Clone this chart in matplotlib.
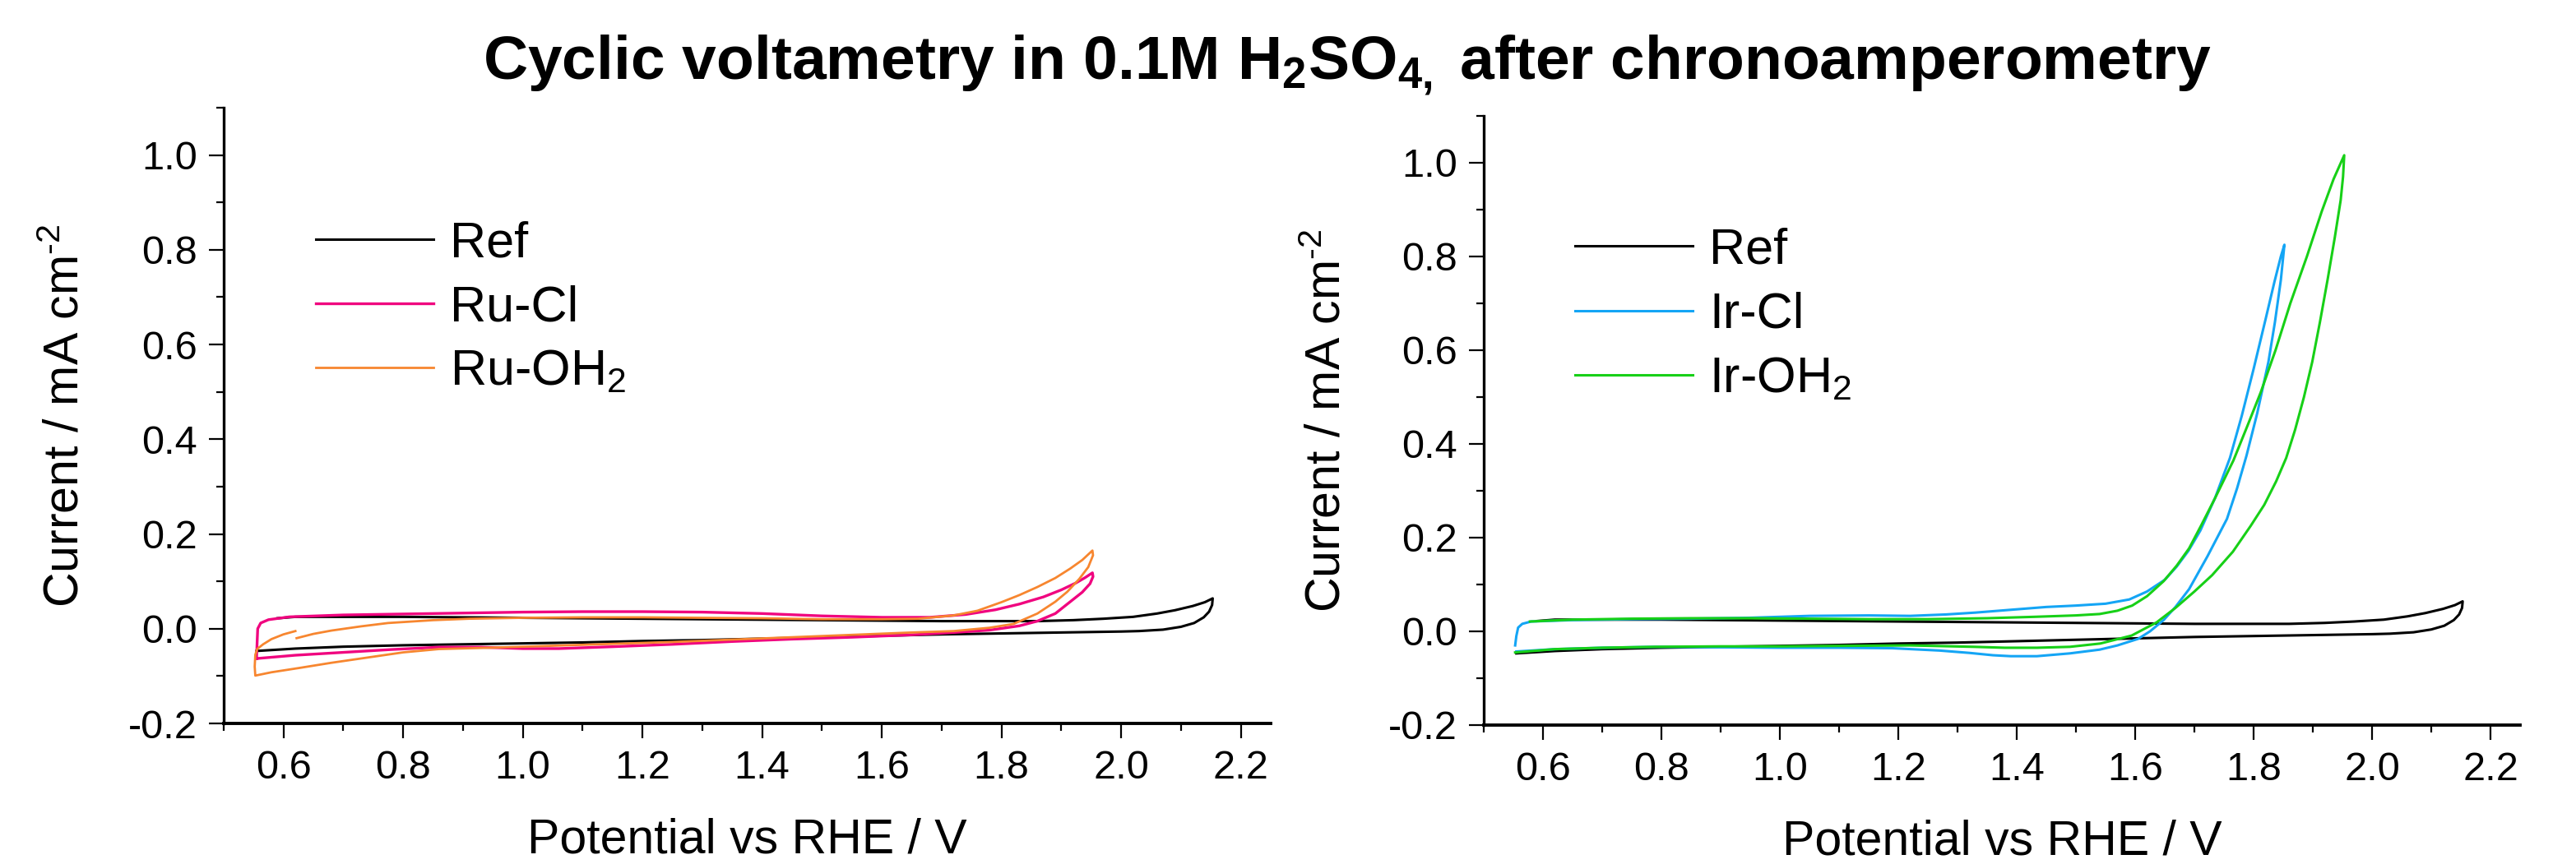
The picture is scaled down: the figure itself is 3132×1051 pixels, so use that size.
import numpy as np
import matplotlib
matplotlib.use('Agg')
import matplotlib.pyplot as plt
from matplotlib.ticker import MultipleLocator, FormatStrFormatter

# Fonts: Arial look-alike, math text in the same family
plt.rcParams['font.family'] = ['Liberation Sans', 'DejaVu Sans']
plt.rcParams['mathtext.fontset'] = 'custom'
plt.rcParams['mathtext.rm'] = 'Liberation Sans'
plt.rcParams['mathtext.it'] = 'Liberation Sans:italic'
plt.rcParams['mathtext.bf'] = 'Liberation Sans:bold'
plt.rcParams['axes.unicode_minus'] = False

# ---- data (potential V vs RHE, current mA cm-2) ----
ref_v = [0.59, 0.62, 0.70, 0.80, 0.90, 1.00, 1.10, 1.20, 1.30, 1.40, 1.50, 1.60,
         1.70, 1.80, 1.86, 1.92, 1.97, 2.02, 2.06, 2.09, 2.12, 2.14, 2.153,
         2.152, 2.147, 2.138, 2.122, 2.10, 2.07, 2.03, 2.00, 1.90, 1.80, 1.70,
         1.60, 1.50, 1.40, 1.30, 1.20, 1.10, 1.00, 0.90, 0.80, 0.70, 0.62, 0.555]
ref_i = [0.022, 0.025, 0.025, 0.025, 0.024, 0.023, 0.022, 0.021, 0.020, 0.019,
         0.018, 0.017, 0.016, 0.016, 0.016, 0.018, 0.021, 0.025, 0.032, 0.039,
         0.048, 0.056, 0.064,
         0.050, 0.036, 0.024, 0.012, 0.004, -0.002, -0.005, -0.006, -0.008,
         -0.010, -0.012, -0.015, -0.018, -0.021, -0.024, -0.026, -0.029, -0.031,
         -0.033, -0.035, -0.038, -0.042, -0.047]

rucl_v = [0.555, 0.556, 0.557, 0.562, 0.575, 0.61, 0.70, 0.80, 0.90, 1.00, 1.10,
          1.20, 1.30, 1.40, 1.50, 1.60, 1.68, 1.74, 1.79, 1.83, 1.87, 1.90, 1.925,
          1.94, 1.952,
          1.953, 1.948, 1.935, 1.91, 1.89, 1.86, 1.83, 1.78, 1.72, 1.65, 1.55, 1.45,
          1.35, 1.25, 1.15, 1.06, 1.00, 0.93, 0.86, 0.78, 0.70, 0.62, 0.555]
rucl_i = [-0.063, -0.030, 0.000, 0.012, 0.019, 0.025, 0.029, 0.031, 0.033, 0.035,
          0.036, 0.036, 0.035, 0.032, 0.027, 0.024, 0.024, 0.030, 0.040, 0.052,
          0.067, 0.082, 0.097, 0.108, 0.118,
          0.110, 0.095, 0.077, 0.052, 0.032, 0.016, 0.006, -0.003, -0.008, -0.013,
          -0.018, -0.022, -0.027, -0.033, -0.038, -0.042, -0.042, -0.039, -0.039,
          -0.044, -0.050, -0.056, -0.063]

ruoh_v = [0.622, 0.65, 0.68, 0.73, 0.775, 0.85, 0.91, 1.00, 1.10, 1.20, 1.30, 1.40,
          1.50, 1.60, 1.66, 1.72, 1.76, 1.80, 1.83, 1.86, 1.89, 1.915, 1.935, 1.952,
          1.953, 1.945, 1.93, 1.91, 1.89, 1.86, 1.82, 1.78, 1.72, 1.65, 1.55, 1.45,
          1.35, 1.25, 1.15, 1.05, 0.95, 0.86, 0.80, 0.74, 0.68, 0.626, 0.58, 0.553,
          0.552, 0.553, 0.556, 0.566, 0.58, 0.60, 0.62]
ruoh_i = [-0.020, -0.011, -0.004, 0.005, 0.012, 0.018, 0.021, 0.023, 0.024, 0.024,
          0.023, 0.022, 0.020, 0.020, 0.021, 0.028, 0.038, 0.056, 0.071, 0.088,
          0.107, 0.127, 0.145, 0.165,
          0.155, 0.130, 0.105, 0.078, 0.057, 0.032, 0.010, 0.002, -0.005, -0.008,
          -0.013, -0.018, -0.023, -0.028, -0.032, -0.036, -0.040, -0.043, -0.050,
          -0.061, -0.072, -0.083, -0.092, -0.099,
          -0.080, -0.055, -0.043, -0.033, -0.022, -0.012, -0.005]

ircl_v = [0.553, 0.555, 0.558, 0.565, 0.58, 0.65, 0.75, 0.85, 0.95, 1.05, 1.15,
          1.22, 1.28, 1.33, 1.39, 1.45, 1.50, 1.55, 1.59, 1.62, 1.65, 1.67, 1.69,
          1.71, 1.735, 1.76, 1.78, 1.80, 1.82, 1.835, 1.846, 1.852,
          1.850, 1.846, 1.836, 1.825, 1.806, 1.788, 1.772, 1.755, 1.722, 1.691,
          1.668, 1.648, 1.625, 1.605, 1.57, 1.54, 1.49, 1.434, 1.39, 1.36, 1.32,
          1.27, 1.19, 1.10, 1.00, 0.90, 0.79, 0.70, 0.62, 0.555]
ircl_i = [-0.030, -0.010, 0.008, 0.016, 0.021, 0.024, 0.026, 0.027, 0.029, 0.033,
          0.034, 0.033, 0.036, 0.040, 0.046, 0.052, 0.055, 0.059, 0.068, 0.085,
          0.110, 0.138, 0.172, 0.215, 0.285, 0.370, 0.460, 0.560, 0.665, 0.745,
          0.800, 0.825,
          0.800, 0.750, 0.660, 0.575, 0.465, 0.375, 0.305, 0.240, 0.160, 0.090,
          0.052, 0.024, 0.000, -0.016, -0.030, -0.039, -0.047, -0.053, -0.053,
          -0.051, -0.046, -0.041, -0.036, -0.035, -0.035, -0.034, -0.033, -0.035,
          -0.038, -0.043]

iroh_v = [0.578, 0.65, 0.75, 0.85, 0.95, 1.05, 1.15, 1.25, 1.35, 1.43, 1.50, 1.54,
          1.57, 1.595, 1.62, 1.648, 1.67, 1.691, 1.711, 1.734, 1.766, 1.79, 1.812,
          1.837, 1.862, 1.89, 1.915, 1.935, 1.953,
          1.951, 1.947, 1.937, 1.925, 1.912, 1.899, 1.885, 1.870, 1.855, 1.838,
          1.818, 1.795, 1.765, 1.73, 1.70, 1.668, 1.636, 1.594, 1.541, 1.49, 1.434,
          1.38, 1.327, 1.22, 1.10, 1.005, 0.90, 0.791, 0.70, 0.62, 0.553]
iroh_i = [0.021, 0.025, 0.027, 0.028, 0.028, 0.027, 0.026, 0.026, 0.028, 0.031,
          0.034, 0.037, 0.044, 0.055, 0.075, 0.107, 0.140, 0.177, 0.225, 0.282,
          0.365, 0.440, 0.510, 0.600, 0.700, 0.800, 0.896, 0.965, 1.016,
          0.970, 0.920, 0.840, 0.751, 0.660, 0.575, 0.500, 0.430, 0.370, 0.320,
          0.270, 0.225, 0.170, 0.120, 0.085, 0.050, 0.019, -0.009, -0.026, -0.033,
          -0.035, -0.035, -0.033, -0.030, -0.031, -0.032, -0.032, -0.033, -0.035,
          -0.038, -0.045]

x_ticks = [0.6, 0.8, 1.0, 1.2, 1.4, 1.6, 1.8, 2.0, 2.2]
y_ticks = [-0.2, 0.0, 0.2, 0.4, 0.6, 0.8, 1.0]

fig = plt.figure(figsize=(31.32, 10.51), dpi=100)

ax1 = fig.add_axes([0.0868, 0.1627, 0.4065, 0.7127])
ax2 = fig.add_axes([0.5760, 0.1608, 0.4023, 0.7051])

ax1.plot(ref_v, ref_i, color='black', lw=2.2, label='Ref')
ax1.plot(rucl_v, rucl_i, color='#F0047F', lw=2.4, label='Ru-Cl')
ax1.plot(ruoh_v, ruoh_i, color='#F7862F', lw=2.0, label='Ru-OH$_2$')

ax2.plot(ref_v, ref_i, color='black', lw=2.2, label='Ref')
ax2.plot(ircl_v, ircl_i, color='#14A5F5', lw=2.2, label='Ir-Cl')
ax2.plot(iroh_v, iroh_i, color='#17D017', lw=2.2, label='Ir-OH$_2$')

for ax in (ax1, ax2):
    ax.set_xlim(0.5, 2.25)
    ax.set_ylim(-0.2, 1.1)
    ax.spines['top'].set_visible(False)
    ax.spines['right'].set_visible(False)
    ax.spines['left'].set_linewidth(2.4)
    ax.spines['bottom'].set_linewidth(2.8)
    ax.set_xticks(x_ticks)
    ax.set_yticks(y_ticks)
    ax.xaxis.set_minor_locator(MultipleLocator(0.1))
    ax.yaxis.set_minor_locator(MultipleLocator(0.1))
    ax.xaxis.set_major_formatter(FormatStrFormatter('%.1f'))
    ax.yaxis.set_major_formatter(FormatStrFormatter('%.1f'))
    ax.tick_params(which='major', direction='out', length=13, width=1.6,
                   labelsize=35, pad=10)
    ax.tick_params(which='minor', direction='out', length=6.5, width=1.6)
    ax.set_xlabel('Potential vs RHE / V', fontsize=42.5, labelpad=27)
    ax.set_ylabel(r'Current / mA cm$^{\text{-}2}$', fontsize=42.5)
    ax.yaxis.set_label_coords(-0.129, 0.5)
    ax.legend(loc='upper left', bbox_to_anchor=(0.088, 0.817), frameon=False,
              fontsize=44, handlelength=2.34, handletextpad=0.33,
              labelspacing=0.35, borderpad=0, borderaxespad=0)

fig.text(0.523, 0.908,
         r'Cyclic voltametry in 0.1M H$_\mathbf{2}$SO$_\mathbf{4,}$ after chronoamperometry',
         ha='center', va='baseline', fontsize=54, fontweight='bold')

fig.savefig('out.png', dpi=100)
